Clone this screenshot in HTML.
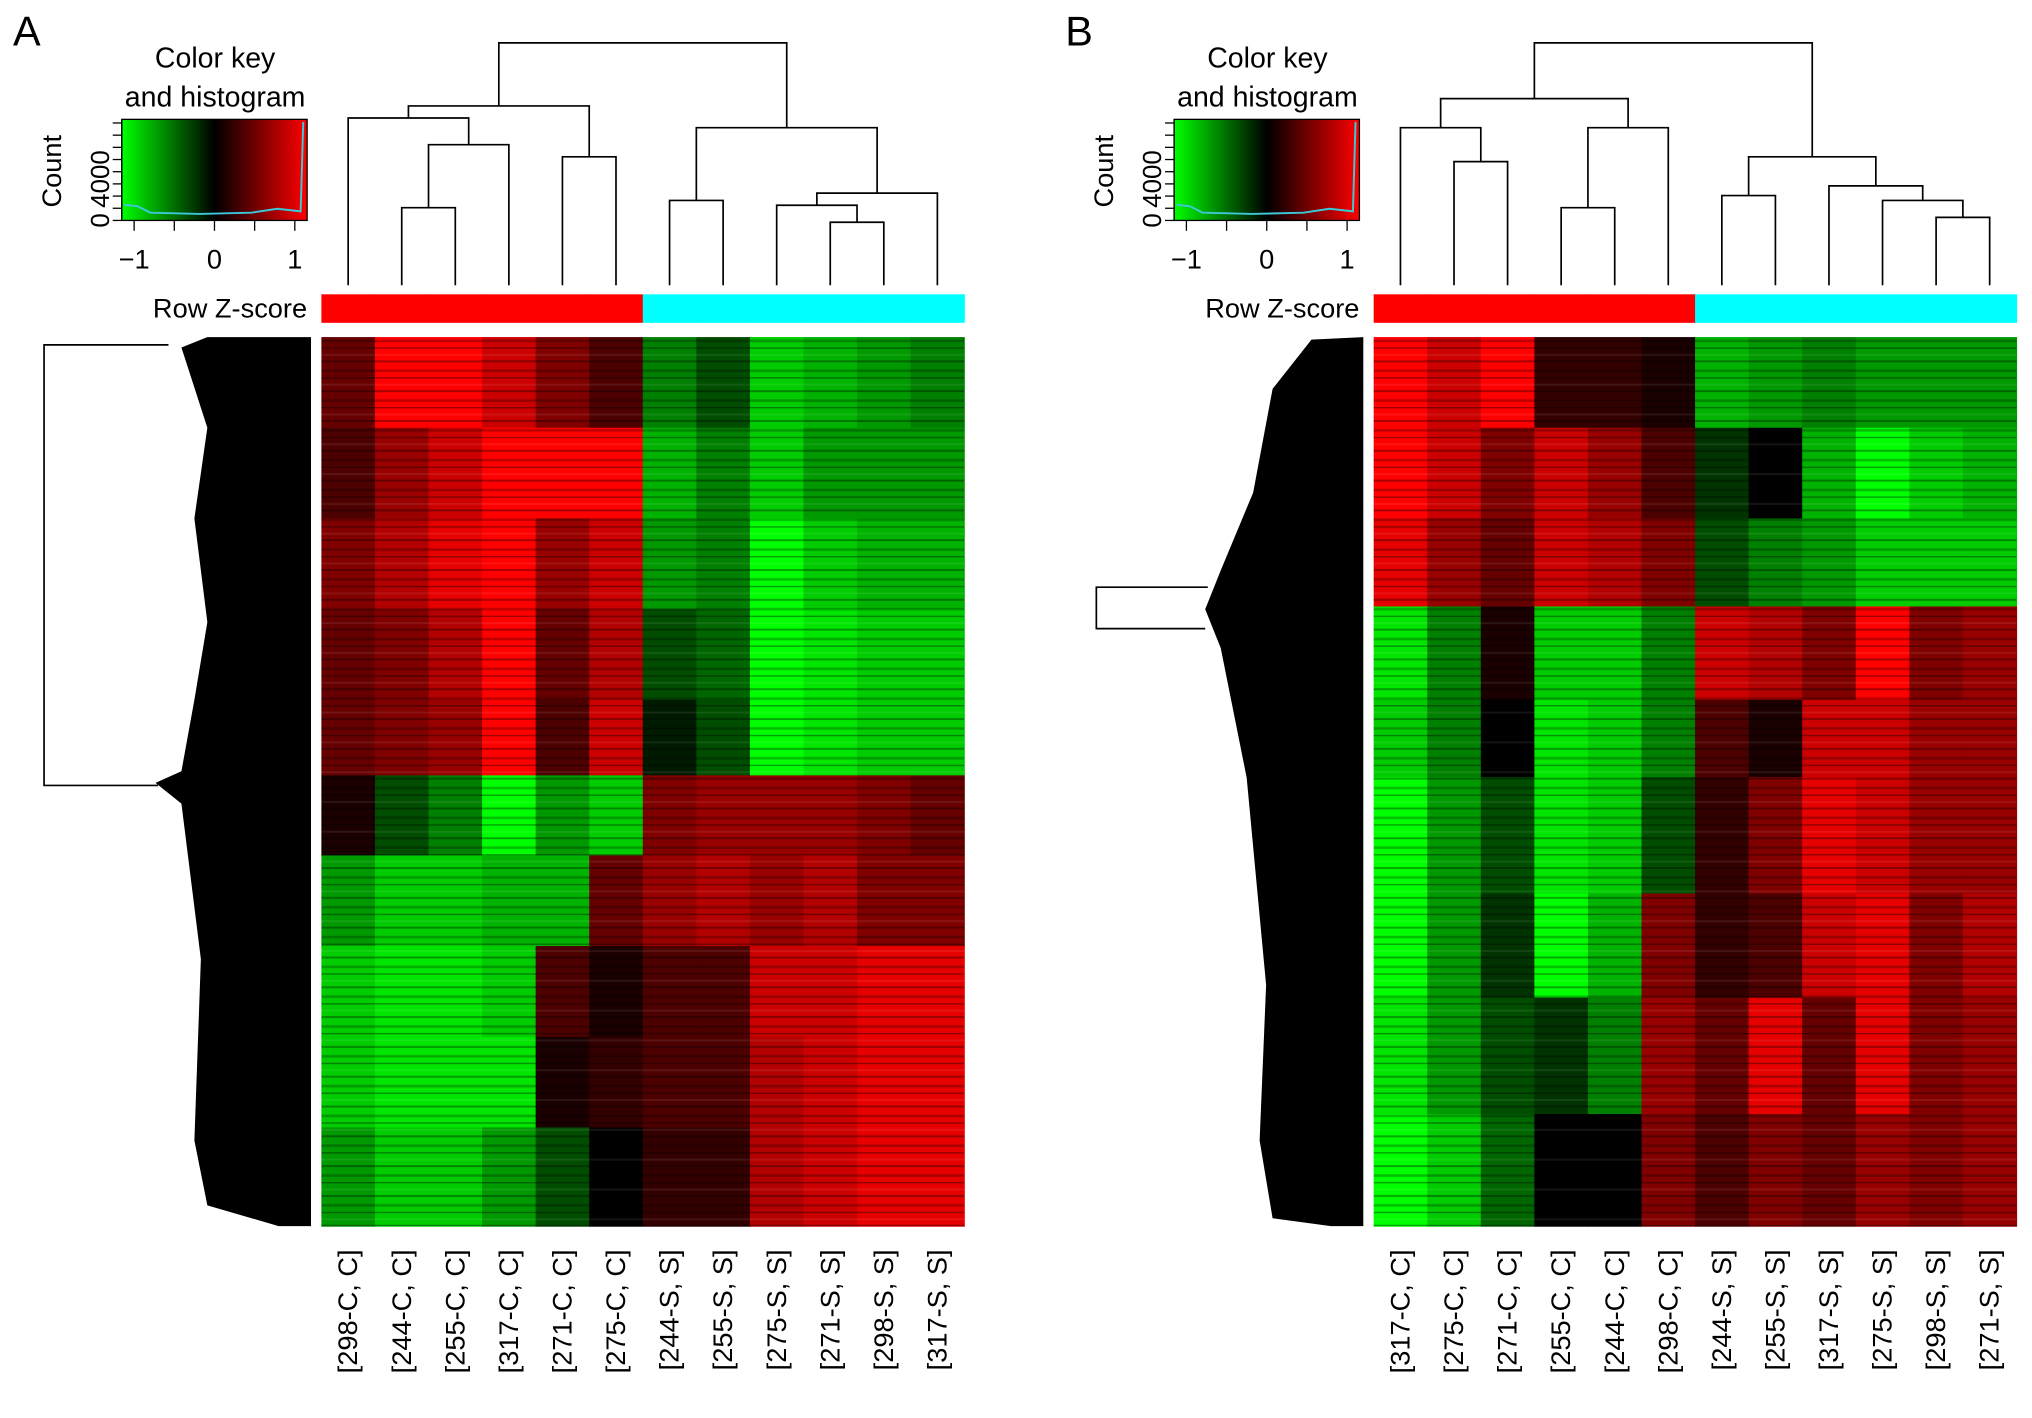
<!DOCTYPE html>
<html><head><meta charset="utf-8"><style>html,body{margin:0;padding:0;background:#fff}svg{display:block}text{font-family:"Liberation Sans",sans-serif;fill:#000}</style></head>
<body>
<svg id="fig" xmlns="http://www.w3.org/2000/svg" width="2032" height="1418" viewBox="0 0 1568 1094">
<defs>
<linearGradient id="keyg" x1="0" x2="1" y1="0" y2="0"><stop offset="0" stop-color="#00ff00"/><stop offset="0.5" stop-color="#000"/><stop offset="1" stop-color="#ff0000"/></linearGradient>
<pattern id="stripes" width="40" height="23" patternUnits="userSpaceOnUse"><rect x="0" y="2" width="40" height="1.5" fill="#000" opacity="0.35"/><rect x="0" y="9" width="40" height="2" fill="#000" opacity="0.25"/><rect x="0" y="15" width="40" height="1" fill="#000" opacity="0.4"/><rect x="0" y="20" width="40" height="1.5" fill="#fff" opacity="0.08"/></pattern>
</defs>
</svg>
<script>
const colsA=["[298-C, C]","[244-C, C]","[255-C, C]","[317-C, C]","[271-C, C]","[275-C, C]","[244-S, S]","[255-S, S]","[275-S, S]","[271-S, S]","[298-S, S]","[317-S, S]"];
const groupsA=["C","C","C","C","C","C","S","S","S","S","S","S"];
const bandsA=[0.102,0.102,0.102,0.102,0.085,0.09,0.102,0.102,0.102,0.111];
const zA=[
[0.4,1,1,0.8,0.5,0.3,-0.5,-0.3,-0.8,-0.7,-0.6,-0.5],
[0.3,0.6,0.8,1,1,1,-0.7,-0.5,-0.8,-0.6,-0.6,-0.6],
[0.5,0.7,0.9,1,0.6,0.8,-0.6,-0.5,-1,-0.8,-0.7,-0.7],
[0.4,0.5,0.7,1,0.4,0.7,-0.3,-0.4,-1,-0.9,-0.8,-0.8],
[0.4,0.5,0.6,1,0.3,0.8,-0.1,-0.3,-1,-0.9,-0.8,-0.8],
[0.1,-0.3,-0.5,-1,-0.6,-0.8,0.5,0.6,0.6,0.6,0.5,0.4],
[-0.6,-0.8,-0.8,-0.7,-0.7,0.4,0.6,0.7,0.6,0.7,0.5,0.5],
[-0.8,-0.9,-0.9,-0.8,0.3,0.1,0.3,0.3,0.8,0.8,0.9,0.9],
[-0.8,-0.9,-0.9,-0.9,0.1,0.2,0.3,0.3,0.7,0.8,0.9,0.9],
[-0.6,-0.8,-0.8,-0.6,-0.3,0,0.2,0.2,0.7,0.8,0.9,0.9]];
const colsB=["[317-C, C]","[275-C, C]","[271-C, C]","[255-C, C]","[244-C, C]","[298-C, C]","[244-S, S]","[255-S, S]","[317-S, S]","[275-S, S]","[298-S, S]","[271-S, S]"];
const groupsB=groupsA;
const bandsB=[0.102,0.102,0.099,0.105,0.087,0.131,0.117,0.131,0.126];
const zB=[
[1,0.8,1,0.2,0.2,0.1,-0.7,-0.6,-0.5,-0.6,-0.6,-0.6],
[1,0.8,0.5,0.8,0.6,0.3,-0.2,0,-0.7,-1,-0.8,-0.7],
[0.9,0.6,0.4,0.8,0.7,0.5,-0.3,-0.5,-0.6,-0.8,-0.8,-0.8],
[-0.9,-0.5,0.1,-0.8,-0.8,-0.5,0.8,0.7,0.5,1,0.5,0.6],
[-0.8,-0.5,0,-0.9,-0.8,-0.5,0.3,0.1,0.8,0.8,0.6,0.6],
[-1,-0.6,-0.3,-0.9,-0.8,-0.3,0.2,0.5,0.9,0.8,0.6,0.6],
[-1,-0.6,-0.2,-1,-0.7,0.5,0.2,0.3,0.8,0.9,0.5,0.7],
[-0.9,-0.6,-0.3,-0.2,-0.5,0.6,0.4,0.9,0.4,0.9,0.5,0.6],
[-1,-0.8,-0.4,0,0,0.5,0.3,0.5,0.4,0.6,0.5,0.6]];
const treeA=[[1,2,0.32],["n0",3,0.58],[0,"n1",0.69],[4,5,0.53],["n2","n3",0.74],[6,7,0.35],[9,10,0.26],[8,"n6",0.33],["n7",11,0.38],["n5","n8",0.65],["n4","n9",1]];
const treeB=[[1,2,0.51],[0,"n0",0.65],[3,4,0.32],["n2",5,0.65],["n1","n3",0.77],[6,7,0.37],[10,11,0.28],[9,"n6",0.35],[8,"n7",0.41],["n5","n8",0.53],["n4","n9",1]];

const NS="http://www.w3.org/2000/svg";
const svg=document.getElementById('fig');
function mk(tag,attrs,parent){const e=document.createElementNS(NS,tag);for(const k in attrs)e.setAttribute(k,attrs[k]);(parent||svg).appendChild(e);return e;}
function col(z){z=Math.max(-1,Math.min(1,z));return z<0?`rgb(0,${Math.round(-z*255)},0)`:`rgb(${Math.round(z*255)},0,0)`;}

function panel(dx,letter,cols,groups,bands,z,tree,rowDendro){
  const g=mk('g',{transform:`translate(${dx},0)`});
  
  
  const hx=248,hy=260,hw=496,hh=686,cw=hw/cols.length;
  const xs=i=>hx+cw*(i+0.5);
  const yScale=f=>hy+f*hh;
  let t=mk('text',{x:10,y:35,'font-size':32},g);t.textContent=letter;
  
  const hm=mk('g',{},g);
  
  const tot=bands.reduce((a,b)=>a+b,0);
  let acc=0;
  bands.forEach((b,r)=>{
    const y0=yScale(acc/tot),y1=yScale((acc+b)/tot);acc+=b;
    z[r].forEach((v,c)=>{
      const cell=mk('rect',{x:hx+c*cw,y:y0,width:cw+0.5,height:y1-y0+0.5,fill:col(v)},hm);
      
      
    });
  });
  mk('rect',{x:hx,y:hy,width:hw,height:hh,fill:'url(#stripes)'},hm);
  groups.forEach((gr,i)=>{
    const r=mk('rect',{x:hx+i*cw,y:227,width:cw+0.5,height:22,fill:gr==='C'?'#ff0000':'#00ffff'},g);
    
    
  });
  t=mk('text',{x:237,y:245,'font-size':21,'text-anchor':'end'},g);t.textContent='Row Z-score';
  
  cols.forEach((c,i)=>{
    const l=mk('text',{x:0,y:0,'font-size':21,'text-anchor':'end',transform:`translate(${xs(i)+7},964) rotate(-90)`},g);
    l.textContent=c;
    
    
  });
  const base=220,top=33;
  const hY=h=>base-(base-top)*h;
  const nodes=[];
  const pos=k=>typeof k==='number'?{x:xs(k),y:base}:nodes[+k.slice(1)];
  const dg=mk('g',{stroke:'#000','stroke-width':1.3,fill:'none'},g);
  
  tree.forEach(m=>{
    const a=pos(m[0]),b=pos(m[1]),y=hY(m[2]);
    mk('path',{d:`M${a.x},${a.y}V${y}H${b.x}V${b.y}`},dg);
    nodes.push({x:(a.x+b.x)/2,y:y});
  });
  const rd=mk('g',{},g);
  
  mk('path',{d:rowDendro.fill,fill:'#000'},rd);
  mk('path',{d:rowDendro.lines,stroke:'#000','stroke-width':1.3,fill:'none'},rd);
  const kx=94,ky=92,kw=143,kh=78;
  const kg=mk('g',{},g);
  
  mk('rect',{x:kx,y:ky,width:kw,height:kh,fill:'url(#keyg)',stroke:'#000','stroke-width':1},kg);
  mk('path',{d:`M${kx+2},${ky+66} L${kx+12},${ky+67} L${kx+22},${ky+72} L${kx+60},${ky+73} L${kx+100},${ky+72} L${kx+120},${ky+69} L${kx+138},${ky+71} L${kx+140},${ky+2}`,stroke:'#3cc8d8','stroke-width':1.5,fill:'none'},kg);
  [-1,-0.5,0,0.5,1].forEach(v=>{const x=kx+kw/2+v*62;mk('line',{x1:x,x2:x,y1:ky+kh,y2:ky+kh+8,stroke:'#000'},kg);});
  [-1,0,1].forEach(v=>{const tt=mk('text',{x:kx+kw/2+v*62,y:207,'font-size':21,'text-anchor':'middle'},kg);tt.textContent=v<0?'\u22121':String(v);});
  mk('line',{x1:kx,x2:kx,y1:ky+kh,y2:ky,stroke:'#000'},kg);
  for(let i=0;i<=8;i++){const y=ky+kh-i*9.4;mk('line',{x1:kx-7,x2:kx,y1:y,y2:y,stroke:'#000'},kg);}
  [[0,0],[4000,3.4]].forEach(([v,i])=>{const tt=mk('text',{x:0,y:0,'font-size':20,'text-anchor':'middle',transform:`translate(${kx-10},${ky+kh-i*9.4}) rotate(-90)`},kg);tt.textContent=v;});
  t=mk('text',{x:0,y:0,'font-size':21,'text-anchor':'middle',transform:`translate(47,${ky+40}) rotate(-90)`},kg);t.textContent='Count';
  t=mk('text',{x:166,y:52,'font-size':22,'text-anchor':'middle'},kg);t.textContent='Color key';
  t=mk('text',{x:166,y:82,'font-size':22,'text-anchor':'middle'},kg);t.textContent='and histogram';
}
panel(0,'A',colsA,groupsA,bandsA,zA,treeA,{
  fill:'M240,260 L240,946 L215,946 L160,930 L150,880 L155,740 L150,700 L140,620 L120,604 L140,595 L150,540 L160,480 L150,400 L160,330 L140,268 L160,260 Z',
  lines:'M130,266 H34 V606 H122'});
panel(812,'B',colsB,groupsB,bandsB,zB,treeB,{
  fill:'M240,260 L240,946 L215,946 L170,940 L160,880 L165,760 L150,600 L130,500 L118,470 L130,440 L155,380 L170,300 L200,262 Z',
  lines:'M120,453 H34 V485 H118'});
</script>
</body></html>
